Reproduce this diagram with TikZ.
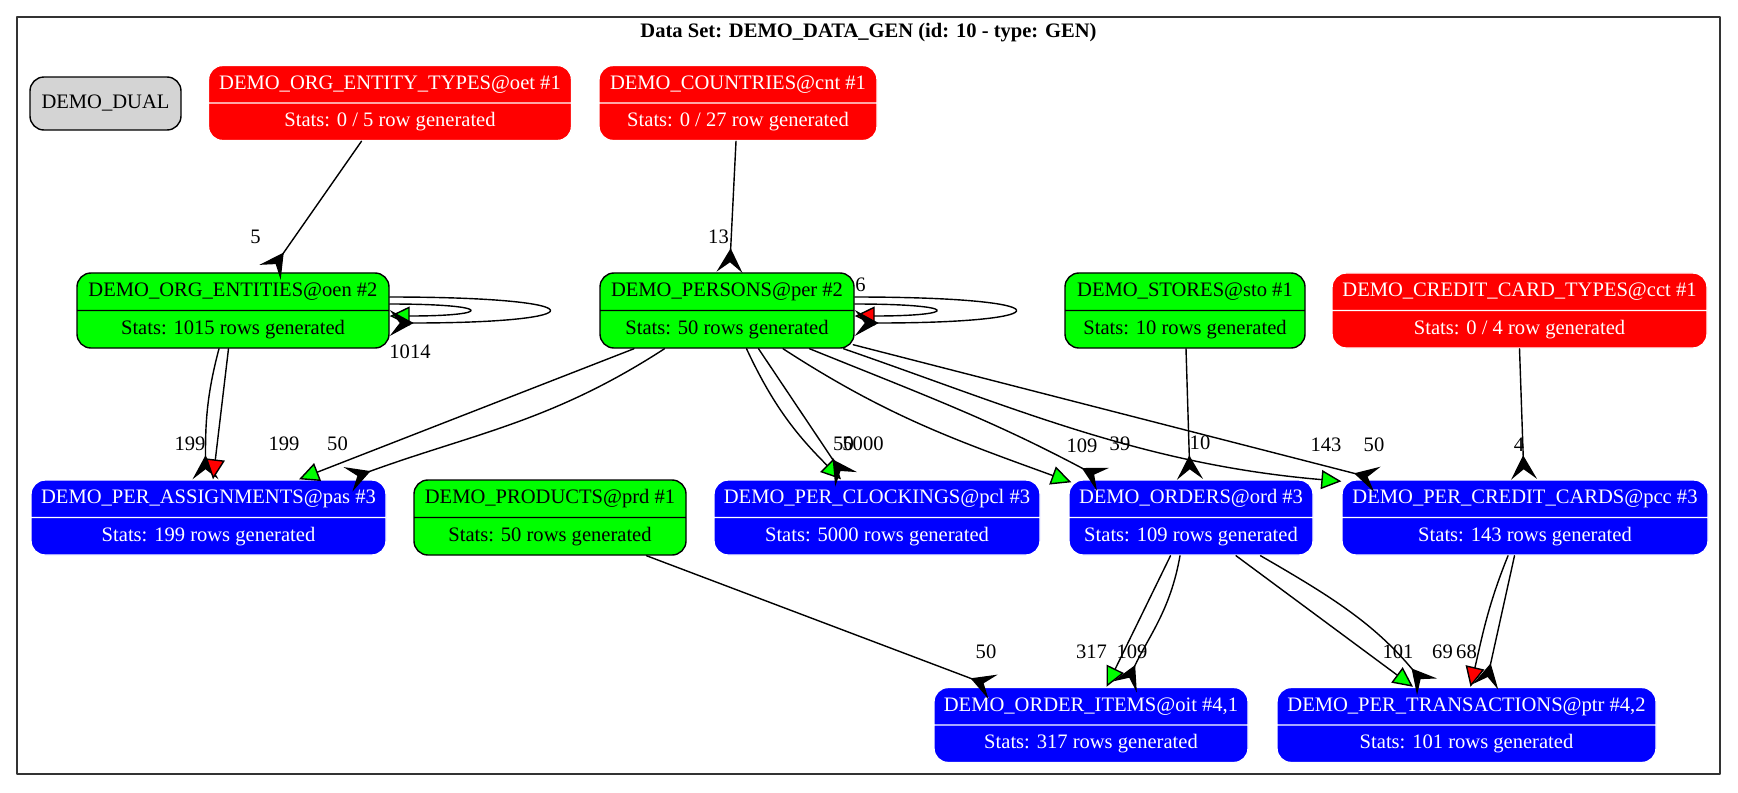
\documentclass[tikz,border=0pt]{standalone}
\usepackage{fontspec}
\setmainfont{Liberation Serif}
\usetikzlibrary{shapes.multipart,arrows.meta}

\begin{document}
\begin{tikzpicture}[line cap=round,line join=round,
  every node/.style={font=\fontsize{11.7}{14}\selectfont},
  tbl/.style={rectangle split,rectangle split parts=2,rounded corners=0.28cm,line width=0.8pt,inner xsep=0.15cm,inner ysep=0.115cm},
  tblred/.style={tbl,fill=red,draw=white,text=white},
  tblgreen/.style={tbl,fill=green,draw=black},
  tblblue/.style={tbl,fill=blue,draw=white,text=white},
  lbl/.style={inner sep=0pt},
  lnk/.style={line width=0.8pt},
  crow/.style={lnk,-{Stealth[reversed,length=0.48cm,width=0.52cm,inset=0.2cm]}},
  gtri/.style={lnk,-{Triangle[length=0.4cm,width=0.38cm,fill=green]}},
  rtri/.style={lnk,-{Triangle[length=0.4cm,width=0.38cm,fill=red]}}]
  \useasboundingbox (0,0) rectangle (34.76,-15.84);
  \draw[line width=0.8pt,black!80] (0.34,-0.34) rectangle (34.40,-15.48);
  \node[font=\fontsize{11.7}{14}\selectfont\bfseries] (title) at (17.37,-0.66) {Data Set: DEMO\_DATA\_GEN (id: 10 - type: GEN)};

  % tables
  \node[draw,fill=black!17,rounded corners=0.28cm,line width=0.8pt,minimum width=3.02cm,minimum height=1.06cm] (dual) at (2.11,-2.07) {DEMO\_DUAL};
  \node[tblred,minimum width=7.26cm] (oet) at (7.80,-2.06) {\strut DEMO\_ORG\_ENTITY\_TYPES@oet \#1\nodepart{two}\strut Stats: 0 / 5 row generated};
  \node[tblred,minimum width=5.56cm] (cnt) at (14.76,-2.06) {\strut DEMO\_COUNTRIES@cnt \#1\nodepart{two}\strut Stats: 0 / 27 row generated};
  \node[tblgreen,minimum width=6.24cm] (oen) at (4.66,-6.21) {\strut DEMO\_ORG\_ENTITIES@oen \#2\nodepart{two}\strut Stats: 1015 rows generated};
  \node[tblgreen,minimum width=5.08cm] (per) at (14.54,-6.21) {\strut DEMO\_PERSONS@per \#2\nodepart{two}\strut Stats: 50 rows generated};
  \node[tblgreen,minimum width=4.80cm] (sto) at (23.70,-6.21) {\strut DEMO\_STORES@sto \#1\nodepart{two}\strut Stats: 10 rows generated};
  \node[tblred,minimum width=7.50cm] (cct) at (30.39,-6.21) {\strut DEMO\_CREDIT\_CARD\_TYPES@cct \#1\nodepart{two}\strut Stats: 0 / 4 row generated};
  \node[tblblue,minimum width=7.10cm] (pas) at (4.17,-10.35) {\strut DEMO\_PER\_ASSIGNMENTS@pas \#3\nodepart{two}\strut Stats: 199 rows generated};
  \node[tblgreen,minimum width=5.44cm] (prd) at (11.00,-10.35) {\strut DEMO\_PRODUCTS@prd \#1\nodepart{two}\strut Stats: 50 rows generated};
  \node[tblblue,minimum width=6.52cm] (pcl) at (17.54,-10.35) {\strut DEMO\_PER\_CLOCKINGS@pcl \#3\nodepart{two}\strut Stats: 5000 rows generated};
  \node[tblblue,minimum width=4.88cm] (ord) at (23.82,-10.35) {\strut DEMO\_ORDERS@ord \#3\nodepart{two}\strut Stats: 109 rows generated};
  \node[tblblue,minimum width=7.32cm] (pcc) at (30.50,-10.35) {\strut DEMO\_PER\_CREDIT\_CARDS@pcc \#3\nodepart{two}\strut Stats: 143 rows generated};
  \node[tblblue,minimum width=6.28cm] (oit) at (21.82,-14.50) {\strut DEMO\_ORDER\_ITEMS@oit \#4,1\nodepart{two}\strut Stats: 317 rows generated};
  \node[tblblue,minimum width=7.58cm] (ptr) at (29.33,-14.50) {\strut DEMO\_PER\_TRANSACTIONS@ptr \#4,2\nodepart{two}\strut Stats: 101 rows generated};

  % links
  \draw[crow] ([xshift=-0.57cm]oet.south) -- ([xshift=0.74cm]oen.north);
  \draw[crow] ([xshift=-0.04cm]cnt.south) -- ([xshift=0.05cm]per.north);
  \draw[gtri] ([yshift=0.13cm]oen.east) .. controls +(2.1,0) and +(2.1,0) .. ([yshift=-0.11cm]oen.east);
  \draw[crow] ([yshift=0.27cm]oen.east) .. controls +(4.21,0) and +(4.21,0) .. ([yshift=-0.25cm]oen.east);
  \draw[rtri] ([yshift=0.13cm]per.east) .. controls +(2.13,0) and +(2.13,0) .. ([yshift=-0.11cm]per.east);
  \draw[crow] ([yshift=0.27cm]per.east) .. controls +(4.24,0) and +(4.24,0) .. ([yshift=-0.25cm]per.east);
  \draw[crow] ([xshift=-0.28cm]oen.south) to[out=-105,in=90] ([xshift=-0.06cm]pas.north);
  \draw[rtri] ([xshift=-0.09cm]oen.south) -- ([xshift=0.09cm]pas.north);
  \draw[gtri] ([xshift=-1.86cm]per.south) -- ([xshift=1.81cm]pas.north);
  \draw[crow] ([xshift=-1.25cm]per.south) to[out=-147,in=20] ([xshift=2.79cm]pas.north);
  \draw[gtri] ([xshift=0.39cm]per.south) to[out=-65,in=135] ([xshift=-0.72cm]pcl.north);
  \draw[crow] ([xshift=0.63cm]per.south) -- ([xshift=-0.62cm]pcl.north);
  \draw[gtri] ([xshift=1.12cm]per.south) to[out=-33,in=160] ([xshift=0.06cm,yshift=-0.06cm]ord.north west);
  \draw[crow] ([xshift=1.65cm]per.south) to[out=-22,in=152] ([xshift=-1.76cm]ord.north);
  \draw[gtri] ([xshift=2.33cm]per.south) .. controls +(3.41,-1.18) and +(-4.0,0.34) .. ([yshift=-0.04cm]pcc.north west);
  \draw[crow] ([xshift=-0.03cm,yshift=0.08cm]per.south east) -- ([xshift=0.72cm]pcc.north west);
  \draw[crow] ([xshift=0.02cm]sto.south) -- ([xshift=-0.02cm]ord.north);
  \draw[crow] (cct.south) -- ([xshift=-0.02cm]pcc.north);
  \draw[crow] ([xshift=1.93cm]prd.south) -- ([xshift=-1.96cm]oit.north);
  \draw[gtri] ([xshift=-0.41cm]ord.south) -- ([xshift=0.31cm]oit.north);
  \draw[crow] ([xshift=-0.22cm]ord.south) to[out=-100,in=65] ([xshift=0.68cm]oit.north);
  \draw[gtri] ([xshift=0.90cm]ord.south) -- ([xshift=-1.07cm]ptr.north);
  \draw[crow] ([xshift=1.39cm]ord.south) to[out=-30,in=130] ([xshift=-0.79cm]ptr.north);
  \draw[rtri] ([xshift=-0.34cm]pcc.south) to[out=-112,in=77] ([xshift=0.08cm]ptr.north);
  \draw[crow] ([xshift=-0.21cm]pcc.south) -- ([xshift=0.38cm]ptr.north);

  % counts
  \node[lbl] (n-oen) at (5.11,-4.73) {5};
  \node[lbl] (n-per) at (14.37,-4.73) {13};
  \node[lbl] (n-perloop) at (17.21,-5.70) {6};
  \node[lbl] (n-oenloop) at (8.20,-7.04) {1014};
  \node[lbl] (n-pas1) at (3.80,-8.88) {199};
  \node[lbl] (n-pas2) at (5.68,-8.88) {199};
  \node[lbl] (n-pas3) at (6.75,-8.88) {50};
  \node[lbl] (n-pcl1) at (16.87,-8.88) {50};
  \node[lbl] (n-pcl2) at (17.26,-8.88) {5000};
  \node[lbl] (n-ord1) at (21.64,-8.92) {109};
  \node[lbl] (n-ord2) at (22.40,-8.88) {39};
  \node[lbl] (n-ord3) at (24.00,-8.85) {10};
  \node[lbl] (n-pcc1) at (26.52,-8.90) {143};
  \node[lbl] (n-pcc2) at (27.48,-8.89) {50};
  \node[lbl] (n-pcc3) at (30.38,-8.90) {4};
  \node[lbl] (n-oit1) at (19.72,-13.03) {50};
  \node[lbl] (n-oit2) at (21.83,-13.03) {317};
  \node[lbl] (n-oit3) at (22.64,-13.03) {109};
  \node[lbl] (n-ptr1) at (27.96,-13.03) {101};
  \node[lbl] (n-ptr2) at (28.85,-13.03) {69};
  \node[lbl] (n-ptr3) at (29.33,-13.03) {68};
\end{tikzpicture}
\end{document}
